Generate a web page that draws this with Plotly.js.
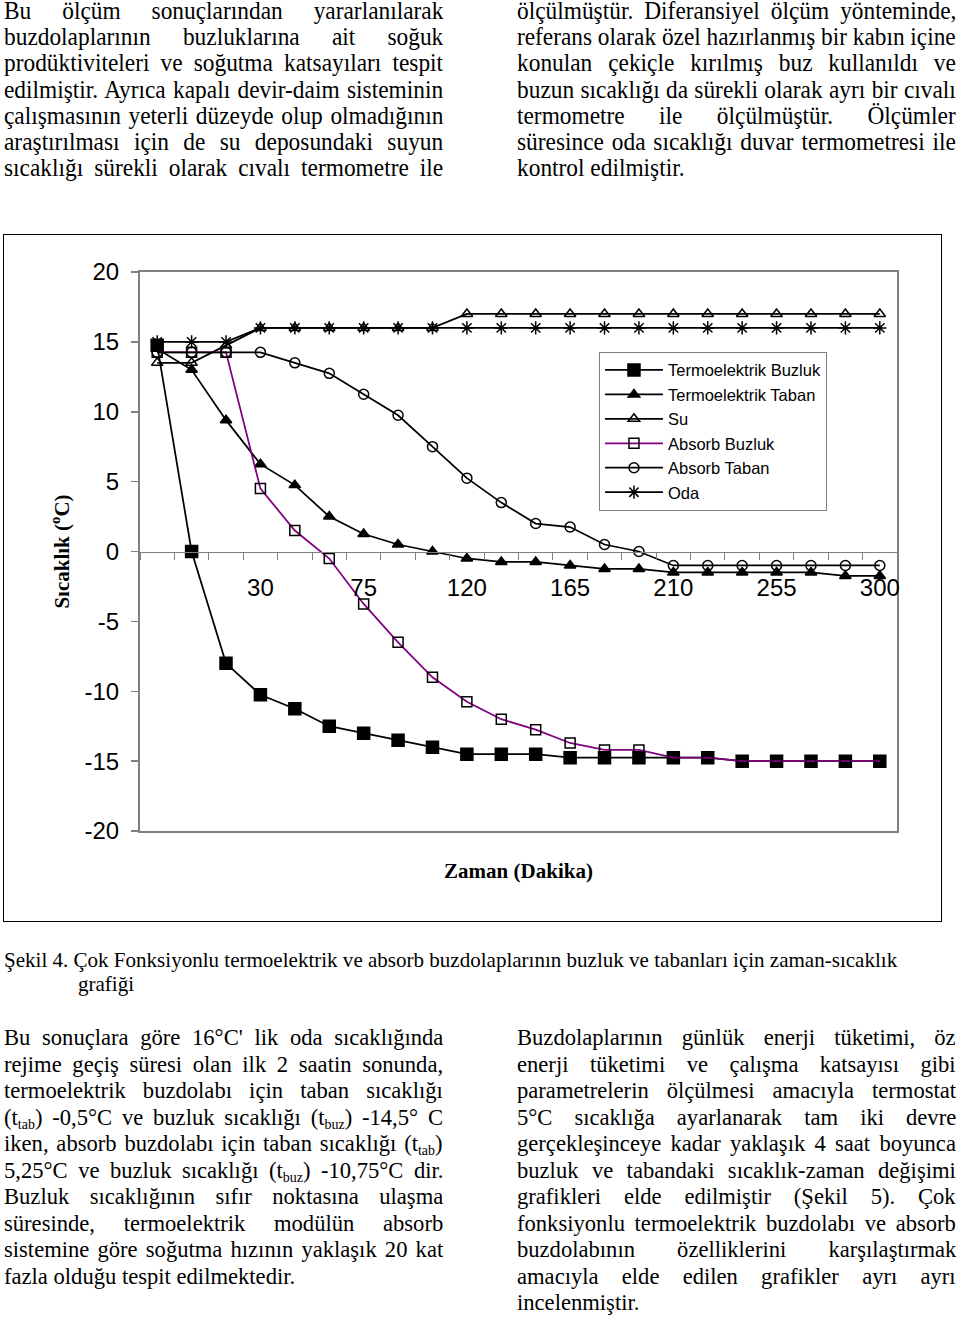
<!DOCTYPE html>
<html><head><meta charset="utf-8">
<script src="https://cdn.plot.ly/plotly-3.0.1.min.js"></script>
<style>
html,body{margin:0;padding:0;background:#fff;}
body{width:960px;height:1319px;overflow:hidden;position:relative;}
.ln{position:absolute;white-space:nowrap;font-family:'Liberation Serif','Times New Roman',serif;color:#000;transform-origin:0 50%;}
.ln sub{font-size:62%;vertical-align:-0.3em;line-height:0;}
#chart{position:absolute;left:4px;top:235px;width:938px;height:687px;}
#frame{position:absolute;left:3px;top:234px;width:939px;height:688px;box-sizing:border-box;border:1.5px solid #000;pointer-events:none;}
</style></head><body>
<div id="chart"></div>
<div id="frame"></div>
<script>
// ---------------- data ----------------
const zaman = [-15, 0, 15, 30, 45, 60, 75, 90, 105, 120, 135, 150, 165, 180, 195, 210, 225, 240, 255, 270, 285, 300];
const termoBuzluk = [14.75, 0, -8, -10.25, -11.25, -12.5, -13, -13.5, -14, -14.5, -14.5, -14.5, -14.75, -14.75, -14.75, -14.75, -14.75, -15, -15, -15, -15, -15];
const termoTaban = [14.5, 13, 9.4, 6.25, 4.75, 2.5, 1.25, 0.5, 0, -0.5, -0.75, -0.75, -1, -1.25, -1.25, -1.5, -1.5, -1.5, -1.5, -1.5, -1.75, -1.75];
const su = [13.5, 13.5, 14.75, 16, 16, 16, 16, 16, 16, 17, 17, 17, 17, 17, 17, 17, 17, 17, 17, 17, 17, 17];
const absorbBuzluk = [14.25, 14.25, 14.25, 4.5, 1.5, -0.5, -3.75, -6.5, -9, -10.75, -12, -12.75, -13.7, -14.2, -14.2, -14.75, -14.75, -15, -15, -15, -15, -15];
const absorbTaban = [14.25, 14.25, 14.25, 14.25, 13.5, 12.75, 11.25, 9.75, 7.5, 5.25, 3.5, 2, 1.75, 0.5, 0, -1, -1, -1, -1, -1, -1, -1];
const oda = [15, 15, 15, 16, 16, 16, 16, 16, 16, 16, 16, 16, 16, 16, 16, 16, 16, 16, 16, 16, 16, 16];
const seriesNames = ['Termoelektrik Buzluk', 'Termoelektrik Taban', 'Su', 'Absorb Buzluk', 'Absorb Taban', 'Oda'];
const xTickVals = [30, 75, 120, 165, 210, 255, 300];
const xTickText = ['30', '75', '120', '165', '210', '255', '300'];
const yTickVals = [-20, -15, -10, -5, 0, 5, 10, 15, 20];
const yTickText = ['-20', '-15', '-10', '-5', '0', '5', '10', '15', '20'];
const yTitle = 'Sıcaklık (<sup>o</sup>C)';
const xTitle = 'Zaman (Dakika)';

// ---------------- chart ----------------
const BLACK = '#000000', PURPLE = '#800080';
function tr(name, y, symbol, size, lineColor, xa) {
  return {
    type: 'scatter', mode: 'lines+markers', name: name, x: zaman, y: y,
    xaxis: xa || 'x', yaxis: 'y',
    line: {color: lineColor, width: 1.75},
    marker: {symbol: symbol, size: size, color: BLACK, line: {color: BLACK, width: 1.5}}
  };
}
const data = [
  tr(seriesNames[0], termoBuzluk, 'square', 12, BLACK),
  tr(seriesNames[1], termoTaban, 'triangle-up', 10, BLACK),
  tr(seriesNames[2], su, 'triangle-up-open', 10, BLACK),
  tr(seriesNames[3], absorbBuzluk, 'square-open', 10, PURPLE),
  tr(seriesNames[4], absorbTaban, 'circle-open', 10, BLACK),
  tr(seriesNames[5], oda, 'asterisk-open', 11, BLACK, 'x2')
];
const GRAY = '#808080';
const layout = {
  width: 938, height: 687,
  margin: {l: 136, r: 45, t: 37, b: 91, pad: 0},
  paper_bgcolor: '#ffffff', plot_bgcolor: '#ffffff',
  font: {family: 'Liberation Sans, Arial, sans-serif', color: '#000', size: 24},
  showlegend: true,
  xaxis: {
    range: [-22.5, 307.5], anchor: 'free', position: 0.5, side: 'bottom',
    showgrid: false, zeroline: false, showline: true, linecolor: GRAY, linewidth: 1.5,
    tickmode: 'array', tickvals: xTickVals, ticktext: xTickText, ticks: '',
    ticklabelstandoff: 14, tickfont: {family: 'Liberation Sans, Arial, sans-serif', size: 24, color: '#000'},
    minor: {tickmode: 'linear', tick0: -22.5, dtick: 15, ticks: 'outside', ticklen: 7, tickwidth: 1, tickcolor: GRAY, showgrid: false}
  },
  xaxis2: {
    overlaying: 'x', anchor: 'y', side: 'bottom', range: [-22.5, 307.5],
    showgrid: false, zeroline: false, showline: true, mirror: true, linecolor: GRAY, linewidth: 2,
    ticks: '', showticklabels: false,
    title: {text: '<b>' + xTitle + '</b>', font: {family: 'Liberation Serif, Times New Roman, serif', size: 21, color: '#000'}, standoff: 31}
  },
  yaxis: {
    range: [-20, 20], tickmode: 'array', tickvals: yTickVals, ticktext: yTickText,
    ticks: 'outside', ticklen: 7, tickwidth: 1.5, tickcolor: GRAY,
    showline: true, mirror: true, linecolor: GRAY, linewidth: 2,
    showgrid: false, zeroline: false, ticklabelstandoff: 7,
    tickfont: {family: 'Liberation Sans, Arial, sans-serif', size: 24, color: '#000'},
    title: {text: '<b>' + yTitle + '</b>', font: {family: 'Liberation Serif, Times New Roman, serif', size: 21, color: '#000'}, standoff: 9}
  },
  legend: {
    x: 0.6063, y: 0.8574, xanchor: 'left', yanchor: 'top',
    bgcolor: '#ffffff', bordercolor: GRAY, borderwidth: 1,
    font: {family: 'Liberation Sans, Arial, sans-serif', size: 16.5, color: '#000'},
    itemwidth: 58, tracegroupgap: 0
  }
};
Plotly.newPlot('chart', data, layout, {displayModeBar: false, staticPlot: true});

// ---------------- page text ----------------
function place(html, x, cy, w, size, sx, justify, lh) {
  const d = document.createElement('div');
  d.className = 'ln';
  d.innerHTML = html;
  d.style.fontSize = size + 'px';
  d.style.lineHeight = lh + 'px';
  d.style.left = x + 'px';
  d.style.top = (cy - lh / 2) + 'px';
  document.body.appendChild(d);
  const nw = d.offsetWidth;
  let s = sx;
  if (justify) {
    const spaces = (d.textContent.match(/ /g) || []).length;
    const extra = spaces ? (w / s - nw) / spaces : 0;
    if (extra >= 0) d.style.wordSpacing = extra + 'px';
    else s = w / nw;
  } else if (w && nw * s > w) {
    s = w / nw;
  }
  d.style.transform = 'scaleX(' + s + ')';
  return {el: d, nw: nw};
}
const topLeft = [
  'Bu ölçüm sonuçlarından yararlanılarak',
  'buzdolaplarının buzluklarına ait soğuk',
  'prodüktiviteleri ve soğutma katsayıları tespit',
  'edilmiştir. Ayrıca kapalı devir-daim sisteminin',
  'çalışmasının yeterli düzeyde olup olmadığının',
  'araştırılması için de su deposundaki suyun',
  'sıcaklığı sürekli olarak cıvalı termometre ile'
];
const topRight = [
  'ölçülmüştür. Diferansiyel ölçüm yönteminde,',
  'referans olarak özel hazırlanmış bir kabın içine',
  'konulan çekiçle kırılmış buz kullanıldı ve',
  'buzun sıcaklığı da sürekli olarak ayrı bir cıvalı',
  'termometre ile ölçülmüştür. Ölçümler',
  'süresince oda sıcaklığı duvar termometresi ile',
  'kontrol edilmiştir.'
];
const botLeft = [
  'Bu sonuçlara göre 16°C\' lik oda sıcaklığında',
  'rejime geçiş süresi olan ilk 2 saatin sonunda,',
  'termoelektrik buzdolabı için taban sıcaklığı',
  '(t<sub>tab</sub>) -0,5°C ve buzluk sıcaklığı (t<sub>buz</sub>) -14,5° C',
  'iken, absorb buzdolabı için taban sıcaklığı (t<sub>tab</sub>)',
  '5,25°C ve buzluk sıcaklığı (t<sub>buz</sub>) -10,75°C dir.',
  'Buzluk sıcaklığının sıfır noktasına ulaşma',
  'süresinde, termoelektrik modülün absorb',
  'sistemine göre soğutma hızının yaklaşık 20 kat',
  'fazla olduğu tespit edilmektedir.'
];
const botRight = [
  'Buzdolaplarının günlük enerji tüketimi, öz',
  'enerji tüketimi ve çalışma katsayısı gibi',
  'parametrelerin ölçülmesi amacıyla termostat',
  '5°C sıcaklığa ayarlanarak tam iki devre',
  'gerçekleşinceye kadar yaklaşık 4 saat boyunca',
  'buzluk ve tabandaki sıcaklık-zaman değişimi',
  'grafikleri elde edilmiştir (Şekil 5). Çok',
  'fonksiyonlu termoelektrik buzdolabı ve absorb',
  'buzdolabının özelliklerini karşılaştırmak',
  'amacıyla elde edilen grafikler ayrı ayrı',
  'incelenmiştir.'
];
const caption1 = 'Şekil 4. Çok Fonksiyonlu termoelektrik ve absorb buzdolaplarının buzluk ve tabanları için zaman-sıcaklık';
const caption2 = 'grafiği';

function drawText() {
  topLeft.forEach((t, i) => place(t, 4, 11 + 26.2 * i, 439, 25, 0.935, true, 18));
  topRight.forEach((t, i) => place(t, 517, 11 + 26.2 * i, 439, 25, 0.935, i < topRight.length - 1, 18));
  botLeft.forEach((t, i) => place(t, 4, 1038 + 26.5 * i, 439, 22.6, 1, i < botLeft.length - 1, 22));
  botRight.forEach((t, i) => place(t, 517, 1038 + 26.5 * i, 439, 22.6, 1, i < botRight.length - 1, 22));
  const c = place(caption1, 4, 960, 0, 22, 1, false, 22);
  const cs = 893 / c.nw;
  c.el.style.transform = 'scaleX(' + cs + ')';
  const g = place(caption2, 78, 984, 0, 22, 1, false, 22);
  g.el.style.transform = 'scaleX(' + cs + ')';
}
if (document.fonts && document.fonts.ready) document.fonts.ready.then(drawText); else drawText();
</script>
</body></html>
